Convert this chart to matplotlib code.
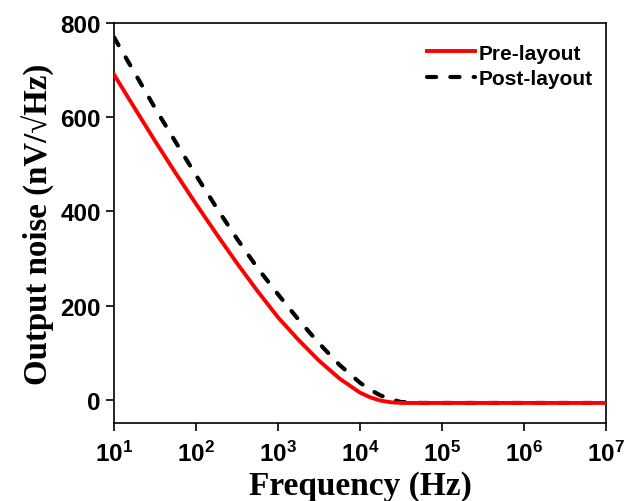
import math
import matplotlib
matplotlib.use("Agg")
import matplotlib.pyplot as plt
from matplotlib.ticker import FixedLocator, NullLocator, FuncFormatter

# dati (frequenza in Hz, rumore in nV/sqrt(Hz))
freq = [10, 17.8, 31.6, 56.2, 100, 178, 316, 562, 1000, 1780, 3160, 5620,
        1e4, 1.33e4, 1.78e4, 2.37e4, 3.16e4, 5.62e4, 1e5, 1e6, 1e7]
noise_pre = [691, 620, 550, 482, 416, 352, 290, 231, 175, 127, 83, 45,
             15, 5, -2, -5.5, -7, -7, -7, -7, -7]
noise_post = [770, 695, 620, 548, 477, 408, 342, 280, 224, 170, 120, 74,
              36, 21, 9, 1, -5, -7, -7, -7, -7]

xtick_pos = [1e1, 1e2, 1e3, 1e4, 1e5, 1e6, 1e7]
ytick_pos = [0, 200, 400, 600, 800]

plt.rcParams["mathtext.fontset"] = "custom"
plt.rcParams["mathtext.rm"] = "Liberation Sans:bold"
plt.rcParams["mathtext.bf"] = "Liberation Sans:bold"


def etichetta_log(v, pos):
    return r"$\mathbf{10^{%d}}$" % round(math.log10(v))


fig = plt.figure(figsize=(6.26, 5.02), dpi=100)
ax = fig.add_axes([0.182, 0.155, 0.786, 0.797])

# la curva rossa sta sopra quella tratteggiata
ax.plot(freq, noise_post, color="black", linewidth=3.0, linestyle=(0, (2.2, 3.4)),
        dash_capstyle="round", label="Post-layout", zorder=2)
ax.plot(freq, noise_pre, color="red", linewidth=2.8, label="Pre-layout", zorder=3)

ax.set_xscale("log")
ax.set_xlim(10, 1e7)
ax.set_ylim(-50, 800)
ax.xaxis.set_major_locator(FixedLocator(xtick_pos))
ax.xaxis.set_minor_locator(NullLocator())
ax.xaxis.set_major_formatter(FuncFormatter(etichetta_log))
ax.set_yticks(ytick_pos)

ax.tick_params(direction="out", length=5.5, width=1.2, labelsize=17.5)
ax.tick_params(axis="x", pad=7)
ax.tick_params(axis="y", pad=4)
for lab in ax.get_yticklabels():
    lab.set_fontfamily("Liberation Sans")
    lab.set_fontweight("bold")
for sp in ax.spines.values():
    sp.set_linewidth(1.2)

ax.set_xlabel("Frequency (Hz)", family=["Liberation Serif", "DejaVu Serif"], fontweight="bold", fontsize=24, labelpad=3)
ax.set_ylabel("Output noise (nV/\u221aHz)", family=["Liberation Serif", "DejaVu Serif"], fontweight="bold", fontsize=23.7, labelpad=4)

handles, labels = ax.get_legend_handles_labels()
ax.legend(handles[::-1], labels[::-1], loc="upper right", bbox_to_anchor=(1.003, 0.985), frameon=False,
          prop={"family": "Liberation Sans", "weight": "bold", "size": 15},
          handlelength=2.3, handletextpad=0.2, labelspacing=0.3, borderaxespad=0.3)

fig.savefig("out.png", dpi=100)
